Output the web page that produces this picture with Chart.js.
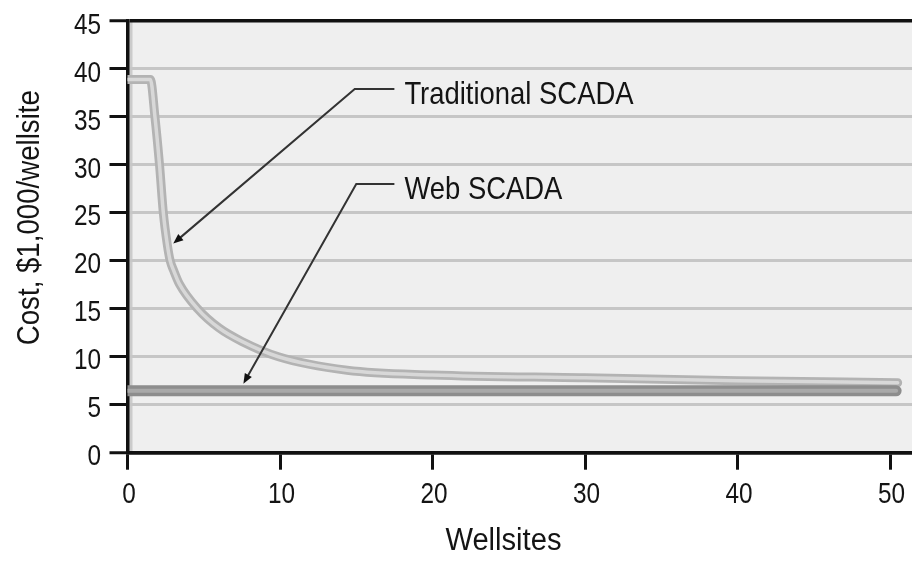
<!DOCTYPE html>
<html>
<head>
<meta charset="utf-8">
<script src="https://cdn.jsdelivr.net/npm/chart.js@4.4.1/dist/chart.umd.min.js"></script>
<style>
  html, body { margin: 0; padding: 0; background: #ffffff; }
  #wrap { width: 912px; height: 561px; }
</style>
</head>
<body>
<div id="wrap"><canvas id="c" width="912" height="561"></canvas></div>
<script>
// Cost per wellsite ($1,000) against number of wellsites
const tradWellsites = [0, 1.5, 1.8, 2.1, 2.35, 2.6, 2.8, 3.05, 3.4, 4.6, 6.0, 7.5, 9.9, 14.4, 20, 30, 40, 50.5];
const tradCost      = [38.9, 38.9, 35, 30, 25, 21.8, 20, 18.9, 17.6, 15, 13, 11.6, 10, 8.6, 8.1, 7.8, 7.5, 7.3];
const webWellsites  = [0, 50.4];
const webCost       = [6.45, 6.45];

const xTicks = [0, 10, 20, 30, 40, 50];
const yTicks = [0, 5, 10, 15, 20, 25, 30, 35, 40, 45];

const seriesNames = ['Traditional SCADA', 'Web SCADA'];
const xTitle = 'Wellsites';
const yTitle = 'Cost, $1,000/wellsite';

// callout leaders, in data units: [label end, elbow, arrow tip]
const tradLeaderX = [17.5, 14.9, 3.0];
const tradLeaderY = [37.9, 37.9, 21.8];
const webLeaderX  = [17.5, 15.0, 7.6];
const webLeaderY  = [28.0, 28.0, 7.2];

// condensed grotesque look: Arial-metric face squeezed horizontally
const FONT = "'Liberation Sans', Arial, sans-serif";
const INK = '#141414';

const pts = (xs, ys) => xs.map((x, i) => ({ x, y: ys[i] }));

function squeezedText(ctx, text, x, y, size, sx, align) {
  ctx.save();
  ctx.translate(x, y);
  ctx.scale(sx, 1);
  ctx.font = `${size}px ${FONT}`;
  ctx.textAlign = align;
  ctx.textBaseline = 'alphabetic';
  ctx.fillText(text, 0, 0);
  ctx.restore();
}

// light gray plot panel with a soft strip along the value axis
const plotBackground = {
  id: 'plotBackground',
  beforeDraw(chart) {
    const { ctx, chartArea: a } = chart;
    ctx.save();
    ctx.fillStyle = '#efefef';
    ctx.fillRect(a.left, a.top, a.right - a.left, a.bottom - a.top);
    ctx.fillStyle = '#cbcbcb';
    ctx.fillRect(a.left + 1, a.top, 4, a.bottom - a.top);
    ctx.restore();
  }
};

// tick labels for both axes, placed from the scales' own ticks
const tickLabels = {
  id: 'tickLabels',
  afterDraw(chart) {
    const { ctx, scales: { x, y } } = chart;
    ctx.save();
    ctx.fillStyle = INK;
    x.ticks.forEach(t => {
      squeezedText(ctx, String(t.value), x.getPixelForValue(t.value) + 1.5, x.top + 50.6, 29, 0.84, 'center');
    });
    y.ticks.forEach(t => {
      squeezedText(ctx, String(t.value), y.left + 101, y.getPixelForValue(t.value) + 12.6, 29, 0.84, 'right');
    });
    ctx.restore();
  }
};

// arrowed leader lines with the series names
const callouts = {
  id: 'callouts',
  afterDatasetsDraw(chart) {
    const { ctx, scales: { x, y } } = chart;
    const items = [
      { name: seriesNames[0], xs: tradLeaderX, ys: tradLeaderY },
      { name: seriesNames[1], xs: webLeaderX, ys: webLeaderY }
    ];
    ctx.save();
    items.forEach(it => {
      const p = it.xs.map((v, i) => [x.getPixelForValue(v), y.getPixelForValue(it.ys[i])]);
      const [tx, ty] = p[2];
      const ang = Math.atan2(ty - p[1][1], tx - p[1][0]);
      const L = 10, W = 4;
      ctx.strokeStyle = '#333333';
      ctx.lineWidth = 2;
      ctx.beginPath();
      ctx.moveTo(p[0][0], p[0][1]);
      ctx.lineTo(p[1][0], p[1][1]);
      ctx.lineTo(tx - Math.cos(ang) * L * 0.8, ty - Math.sin(ang) * L * 0.8);
      ctx.stroke();
      ctx.fillStyle = '#111111';
      ctx.beginPath();
      ctx.moveTo(tx, ty);
      ctx.lineTo(tx - L * Math.cos(ang) + W * Math.sin(ang), ty - L * Math.sin(ang) - W * Math.cos(ang));
      ctx.lineTo(tx - L * Math.cos(ang) - W * Math.sin(ang), ty - L * Math.sin(ang) + W * Math.cos(ang));
      ctx.closePath();
      ctx.fill();

      ctx.fillStyle = INK;
      squeezedText(ctx, it.name, p[0][0] + 10, p[0][1] + 15, 32, 0.857, 'left');
    });
    ctx.restore();
  }
};

// axis titles
const axisTitles = {
  id: 'axisTitles',
  afterDraw(chart) {
    const { ctx, scales: { x, y } } = chart;
    ctx.save();
    ctx.fillStyle = INK;
    squeezedText(ctx, xTitle, x.getPixelForValue(24.65), chart.height - 11, 31, 0.94, 'center');
    ctx.translate(38.5, y.getPixelForValue(24.5));
    ctx.rotate(-Math.PI / 2);
    squeezedText(ctx, yTitle, 0, 0, 32, 0.864, 'center');
    ctx.restore();
  }
};

const lineBase = { pointRadius: 0, pointHoverRadius: 0, fill: false, tension: 0 };

new Chart(document.getElementById('c'), {
  type: 'line',
  data: {
    datasets: [
      { ...lineBase, label: seriesNames[1], data: pts(webWellsites, webCost),
        borderColor: '#a9a9a9', borderWidth: 4, borderCapStyle: 'round', order: 0 },
      { ...lineBase, label: seriesNames[1], data: pts(webWellsites, webCost),
        borderColor: '#8d8d8d', borderWidth: 11, borderCapStyle: 'round', order: 1 },
      { ...lineBase, label: seriesNames[0], data: pts(tradWellsites, tradCost),
        borderColor: '#d8d8d8', borderWidth: 3.5, cubicInterpolationMode: 'monotone',
        borderCapStyle: 'round', order: 2 },
      { ...lineBase, label: seriesNames[0], data: pts(tradWellsites, tradCost),
        borderColor: '#b3b3b3', borderWidth: 9, cubicInterpolationMode: 'monotone',
        borderCapStyle: 'round', order: 3 }
    ]
  },
  options: {
    responsive: false,
    animation: false,
    devicePixelRatio: 1,
    layout: { padding: { top: 21, right: 0, left: 0, bottom: 0 } },
    plugins: { legend: { display: false }, tooltip: { enabled: false } },
    scales: {
      x: {
        type: 'linear',
        min: 0,
        max: 51.44,
        afterBuildTicks: s => { s.ticks = xTicks.map(v => ({ value: v })); },
        afterFit: s => { s.height = 108.3; },
        grid: { drawOnChartArea: false, drawTicks: true, tickLength: 17, tickWidth: 3, tickColor: '#111111' },
        border: { color: '#111111', width: 3.5 },
        ticks: { display: false }
      },
      y: {
        type: 'linear',
        min: 0,
        max: 45,
        afterBuildTicks: s => { s.ticks = yTicks.map(v => ({ value: v })); },
        afterFit: s => { s.width = 127.5; },
        grid: {
          color: c => (c.tick && (c.tick.value === 45 || c.tick.value === 0)) ? '#111111' : '#c6c6c6',
          lineWidth: c => (c.tick && (c.tick.value === 45 || c.tick.value === 0)) ? 3.5 : 3,
          drawTicks: true, tickLength: 18, tickWidth: 3, tickColor: '#111111'
        },
        border: { color: '#111111', width: 3.5 },
        ticks: { display: false }
      }
    }
  },
  plugins: [plotBackground, tickLabels, callouts, axisTitles]
});
</script>
</body>
</html>
